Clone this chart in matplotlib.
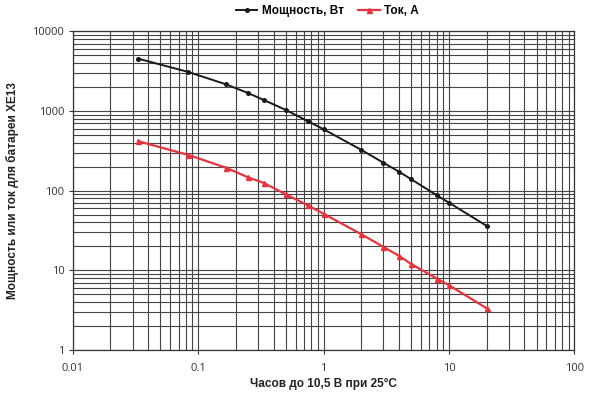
import matplotlib
matplotlib.use("Agg")
import matplotlib.pyplot as plt
from matplotlib.ticker import LogLocator, FixedLocator, NullFormatter

plt.rcParams['font.family'] = ['Liberation Sans Narrow', 'Liberation Sans', 'DejaVu Sans']

# discharge time, hours
hours = [0.0333, 0.0833, 0.1667, 0.25, 0.3333, 0.5, 0.75, 1, 2, 3, 4, 5, 8, 10, 20]
# power, W
power = [4530, 3090, 2160, 1680, 1375, 1030, 745, 590, 325, 224, 173, 139, 87.5, 70.7, 36.1]
# current, A
current = [417, 281, 194, 147, 125, 90, 65.2, 51.3, 28.4, 19.7, 15.2, 12.0, 7.87, 6.5, 3.34]

x_ticks = [0.01, 0.1, 1, 10, 100]
x_labels = ['0.01', '0.1', '1', '10', '100']
y_ticks = [1, 10, 100, 1000, 10000]
y_labels = ['1', '10', '100', '1000', '10000']

fig = plt.figure(figsize=(6.01, 3.98), dpi=100)
ax = fig.add_axes([0.121, 0.1206, 0.8346, 0.8008])

ax.plot(hours, power, color='#1a1a1a', lw=1.4, marker='o', ms=2.6,
        label='Мощность, Вт', zorder=3)
ax.plot(hours, current, color='#e8333c', lw=1.6, marker='^', ms=3.6,
        label='Ток, А', zorder=3)

ax.set_xscale('log')
ax.set_yscale('log')
ax.set_xlim(0.01, 100)
ax.set_ylim(1, 10000)

ax.xaxis.set_major_locator(FixedLocator(x_ticks))
ax.set_xticklabels(x_labels)
ax.yaxis.set_major_locator(FixedLocator(y_ticks))
ax.set_yticklabels(y_labels)
for axis in (ax.xaxis, ax.yaxis):
    axis.set_minor_locator(LogLocator(base=10, subs=range(2, 10)))
    axis.set_minor_formatter(NullFormatter())

ax.grid(True, which='both', color='#444444', lw=0.8)
ax.tick_params(which='major', length=3, width=0.8, color='#333333',
               labelsize=8, labelcolor='#333333', pad=3)
ax.tick_params(which='minor', length=0)
for lbl in ax.get_xticklabels() + ax.get_yticklabels():
    lbl.set_family(['Open Sans', 'DejaVu Sans'])
ax.tick_params(axis='x', pad=6)

for s in ax.spines.values():
    s.set_color('#333333')
    s.set_linewidth(0.9)
ax.set_axisbelow(True)

ax.set_xlabel('Часов до 10,5 В при 25°С', fontsize=8.5, fontweight='bold',
              color='#222222', labelpad=3)
ax.set_ylabel('Мощность или ток для батареи ХЕ13', fontsize=8.5,
              fontweight='bold', color='#222222', labelpad=10)

fig.legend(loc='upper center', bbox_to_anchor=(0.545, 1.015), ncol=2,
           frameon=False, handlelength=1.8, columnspacing=1.2,
           handletextpad=0.4, prop={'weight': 'bold', 'size': 8.5})

fig.savefig('out.png', dpi=100)
